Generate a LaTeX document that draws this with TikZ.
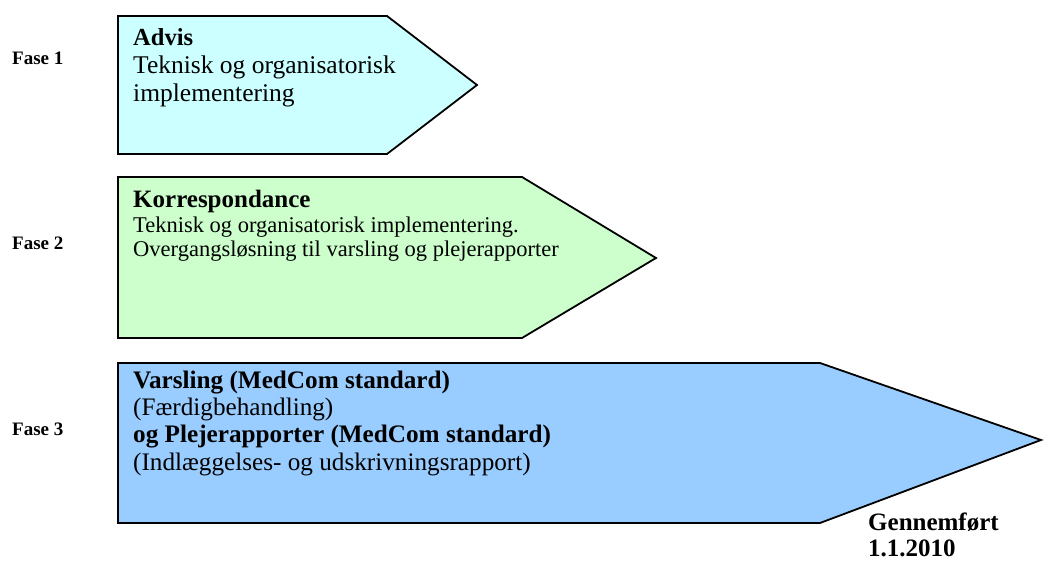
\documentclass[tikz,border=0pt]{standalone}
\usepackage{fontspec}
\setmainfont{Liberation Serif}
\definecolor{cOne}{HTML}{CCFFFF}
\definecolor{cTwo}{HTML}{CCFFCC}
\definecolor{cThree}{HTML}{99CCFF}
\begin{document}
\begin{tikzpicture}[x=1pt,y=-1pt,
  phase/.style={draw=black, line width=1.8pt, line join=miter},
  txt/.style={anchor=base west, inner sep=0pt, align=left},
  fase/.style={anchor=base west, inner sep=0pt, font=\fontsize{19}{19}\selectfont\bfseries}]
\useasboundingbox (0,0) rectangle (1044,561);
\draw[phase, fill=cOne] (118,16) -- (387,16) -- (477,85) -- (387,154) -- (118,154) -- cycle;
\draw[phase, fill=cTwo] (118,177) -- (522,177) -- (656,258) -- (522,338) -- (118,338) -- cycle;
\draw[phase, fill=cThree] (118,363) -- (820,363) -- (1041,440) -- (820,523) -- (118,523) -- cycle;
\node[fase] (f1) at (12,65) {Fase 1};
\node[fase] (f2) at (12,250) {Fase 2};
\node[fase] (f3) at (12,435) {Fase 3};
% base anchor of a multi-line node = baseline of its last line
\node[txt, font=\fontsize{25.5}{28}\selectfont] (t1) at (133,102)
  {{\fontsize{24.5}{28}\selectfont\bfseries Advis}\\Teknisk og organisatorisk\\implementering};
\node[txt, font=\fontsize{22.5}{24.5}\selectfont] (t2) at (133,257)
  {{\fontsize{25}{24.5}\selectfont\bfseries Korrespondance}\\Teknisk og organisatorisk implementering.\\Overgangsløsning til varsling og plejerapporter};
\node[txt, font=\fontsize{25.2}{27.3}\selectfont] (t3) at (133,470)
  {\textbf{Varsling (MedCom standard)}\\(Færdigbehandling)\\\textbf{og Plejerapporter (MedCom standard)}\\(Indlæggelses- og udskrivningsrapport)};
\node[txt, font=\fontsize{25}{26}\selectfont\bfseries] (g) at (868,556)
  {Gennemført\\1.1.2010};
\end{tikzpicture}
\end{document}
